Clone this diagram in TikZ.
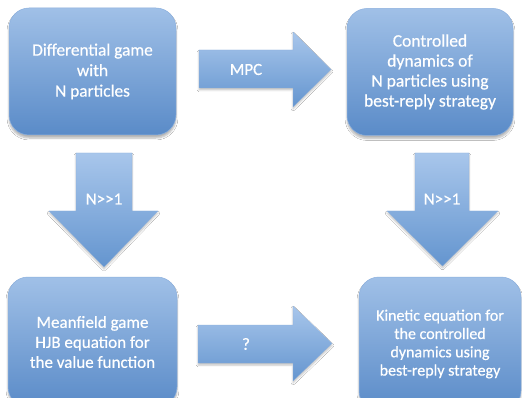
\documentclass[tikz,border=0pt]{standalone}
\usepackage{fontspec}
\setmainfont{Carlito}[FakeBold=0.5]
\usetikzlibrary{shadows.blur}
\definecolor{boxtop}{RGB}{160,192,231}
\definecolor{boxbot}{RGB}{90,139,200}
\definecolor{boxedge}{RGB}{140,176,222}
\definecolor{arrtop}{RGB}{168,198,235}
\definecolor{arrbot}{RGB}{100,149,207}
\tikzset{
  stagebox/.style={rounded corners=20pt, top color=boxtop, bottom color=boxbot,
    draw=boxedge, line width=0.5pt, text=white, align=center,
    inner sep=0pt,
    blur shadow={shadow xshift=0pt, shadow yshift=-3pt, shadow blur steps=6, shadow opacity=30}},
  blockarrow/.style={top color=arrtop, bottom color=arrbot, draw=boxedge, line width=0.2pt,
    blur shadow={shadow xshift=0pt, shadow yshift=-2pt, shadow blur steps=5, shadow opacity=25}},
  arrlabel/.style={text=white, inner sep=0pt, font=\fontsize{17}{20}\selectfont},
}
\begin{document}
\begin{tikzpicture}[x=1pt,y=-1pt]
\useasboundingbox (0,0) rectangle (522,398);
\fill[white] (0,0) rectangle (522,398);
\begin{scope}
\clip (0,0) rectangle (522,398);
% boxes
\node[stagebox, minimum width=167pt, minimum height=127pt, font=\fontsize{17.3}{20.5}\selectfont]
  (a) at (92.5,71.5) {Differential game\\with\\N particles};
\node[stagebox, minimum width=166pt, minimum height=127pt, font=\fontsize{17.5}{20}\selectfont]
  (b) at (430,72) {Controlled\\dynamics of\\N particles using\\best-reply strategy};
\node[stagebox, minimum width=169pt, minimum height=130pt, font=\fontsize{17}{20}\selectfont]
  (c) at (92.5,342) {Meanfield game\\HJB equation for\\the value function};
\node[stagebox, minimum width=162pt, minimum height=134pt, font=\fontsize{16}{18.3}\selectfont]
  (d) at (440,344) {Kinetic equation for\\the controlled\\dynamics using\\best-reply strategy};
% block arrows
\path[blockarrow] (199,50) -- (293,50) -- (293,32) -- (331,69.5) -- (293,107) -- (293,88) -- (199,88) -- cycle;
\node[arrlabel] (mpc) at (246,69.5) {MPC};
\path[blockarrow] (198,325) -- (293,325) -- (293,306) -- (332,343.5) -- (293,381) -- (293,363) -- (198,363) -- cycle;
\node[arrlabel] (q) at (246,344) {?};
\path[blockarrow] (76,153) -- (132,153) -- (132,211) -- (158,211) -- (104,267) -- (49,211) -- (76,211) -- cycle;
\node[arrlabel] (nl) at (104,199) {N>{}>1};
\path[blockarrow] (415,153) -- (469,153) -- (469,211) -- (498,211) -- (442.5,266) -- (387,211) -- (415,211) -- cycle;
\node[arrlabel] (nr) at (442,199) {N>{}>1};
\end{scope}
\end{tikzpicture}
\end{document}
